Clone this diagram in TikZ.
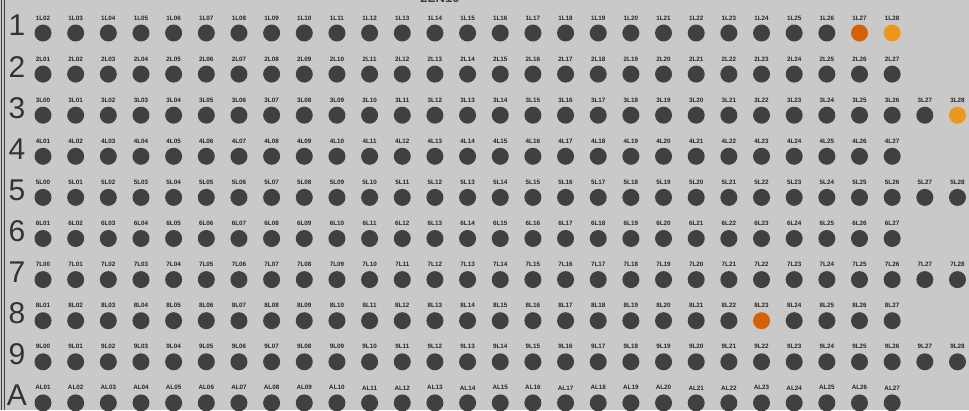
\documentclass[tikz,border=0pt]{standalone}
\usepackage{fontspec}
\setmainfont{Liberation Sans}
\usepackage{tikz}
\usetikzlibrary{positioning}
\definecolor{panel}{RGB}{201,201,201}
\definecolor{pinfill}{RGB}{64,64,64}
\definecolor{hotorange}{RGB}{214,98,8}
\definecolor{warmorange}{RGB}{236,152,30}

\tikzset{
  pin/.style={circle, fill=pinfill, minimum size=17pt, inner sep=0pt},
  tag/.style={font=\fontsize{6.3}{7}\selectfont\bfseries, inner sep=0pt, text=black!85},
  rowno/.style={font=\fontsize{30}{30}\selectfont, inner sep=0pt, text=black!80},
  % highlighted pins
  hl 1-27/.style={fill=hotorange},
  hl 1-28/.style={fill=warmorange},
  hl 3-28/.style={fill=warmorange},
  hl 8-23/.style={fill=hotorange},
}

\begin{document}
\begin{tikzpicture}[x=1pt, y=1pt]
        % Panel
        \useasboundingbox (0, 0) rectangle (969, -410);
        \fill[panel] (0, 0) rectangle (969, -410);
        \draw[black!75, line width=1pt] (1.5, 0) -- (1.5, -410);
        \draw[black!75, line width=1pt] (4.5, 0) -- (4.5, -410);

        % Title (cut off at the top)
        \node[font=\fontsize{13}{13}\selectfont\bfseries, text=black!75] (title) at (440, 2) {2LN10};

        % Rows of pins
        \foreach \r/\name/\first/\last in {1/1/2/28, 2/2/1/27, 3/3/0/28, 4/4/1/27, 5/5/0/28,
                                           6/6/1/27, 7/7/0/28, 8/8/1/27, 9/9/0/28, 10/A/1/27} {
            \node[rowno] (row\r) at (17, {-25.5-41.1*(\r-1)}) {\name};
            \foreach \n [count=\i from 0] in {\first,...,\last} {
                \node[pin, hl \name-\n/.try] (p\name-\n) at ({43+32.66*\i}, {-33-41.1*(\r-1)}) {};
                \node[tag, above=4pt of p\name-\n] (t\name-\n) {\name L\ifnum\n<10 0\fi\n};
            }
        }
    \end{tikzpicture}
\end{document}
